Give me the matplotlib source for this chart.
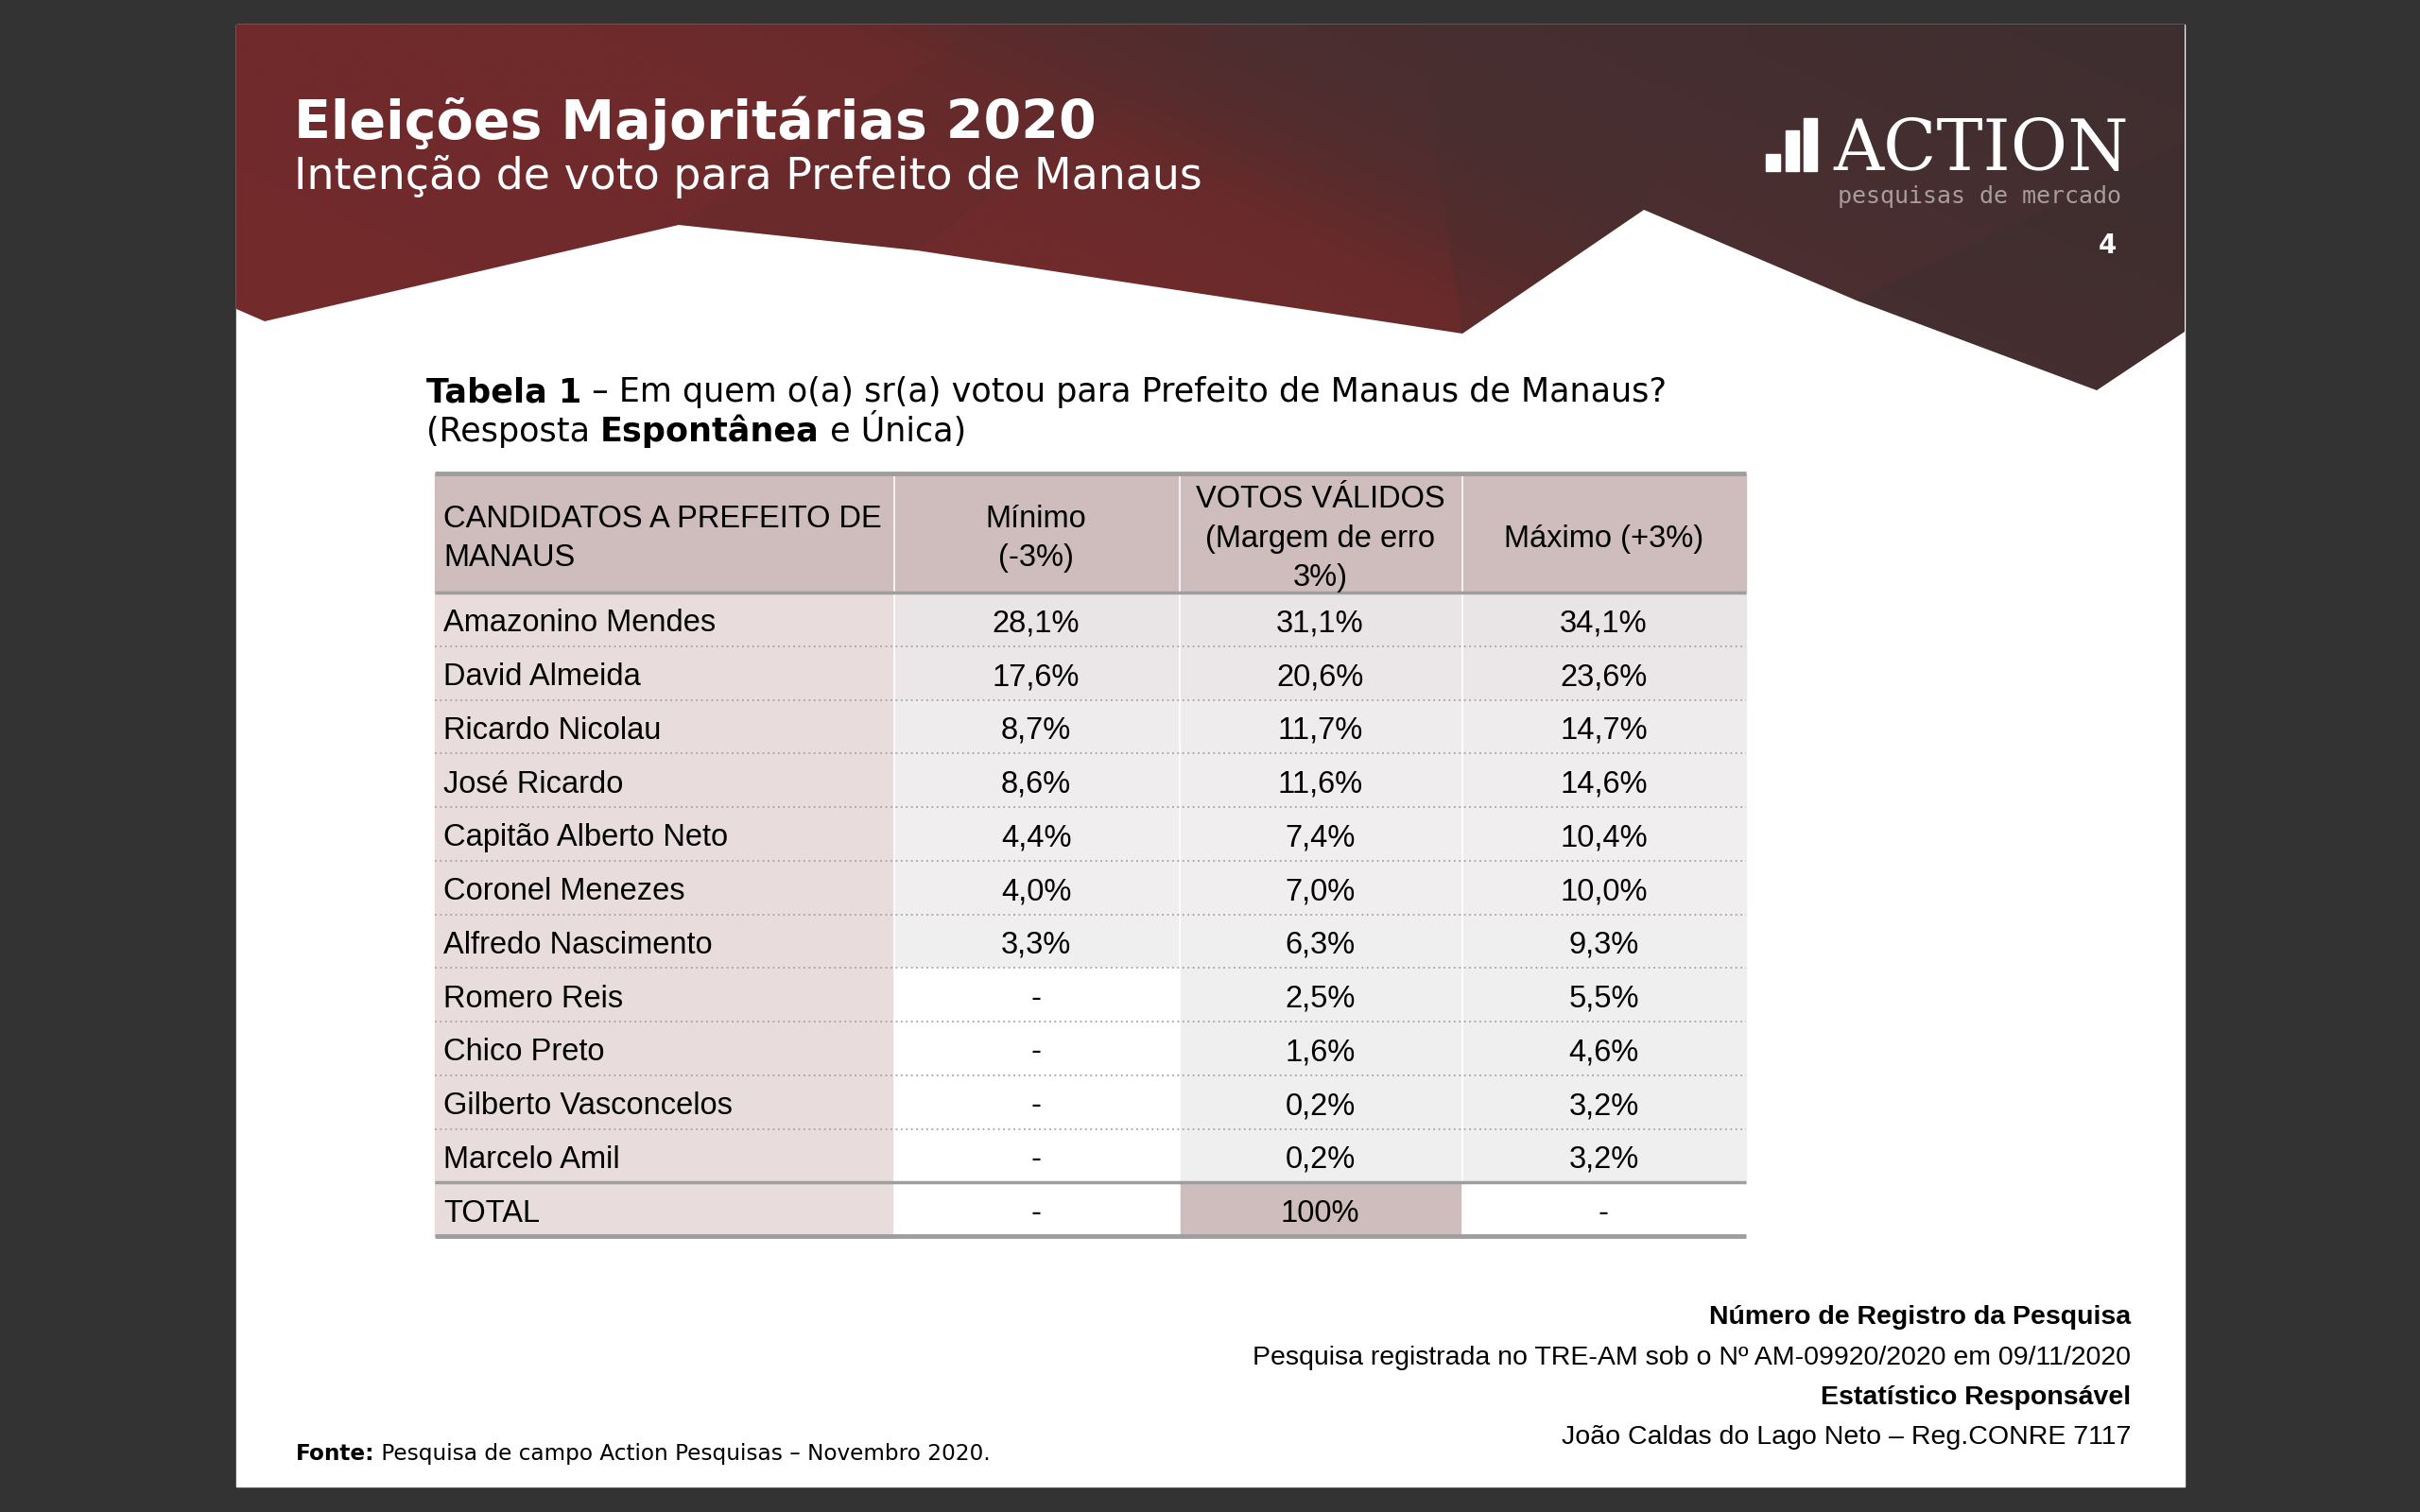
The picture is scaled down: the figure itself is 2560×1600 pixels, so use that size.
import matplotlib.pyplot as plt
import numpy as np
from matplotlib.patches import Polygon, Rectangle
from matplotlib.colors import to_rgb

# table data
candidates = ["Amazonino Mendes", "David Almeida", "Ricardo Nicolau", "José Ricardo",
              "Capitão Alberto Neto", "Coronel Menezes", "Alfredo Nascimento",
              "Romero Reis", "Chico Preto", "Gilberto Vasconcelos", "Marcelo Amil"]
minimo = [28.1, 17.6, 8.7, 8.6, 4.4, 4.0, 3.3, None, None, None, None]
votos = [31.1, 20.6, 11.7, 11.6, 7.4, 7.0, 6.3, 2.5, 1.6, 0.2, 0.2]
maximo = [34.1, 23.6, 14.7, 14.6, 10.4, 10.0, 9.3, 5.5, 4.6, 3.2, 3.2]
headers = ["CANDIDATOS A PREFEITO DE\nMANAUS", "Mínimo\n(-3%)",
           "VOTOS VÁLIDOS\n(Margem de erro\n3%)", "Máximo (+3%)"]
total_row = ["TOTAL", "-", "100%", "-"]

W, H = 2560, 1600
fig = plt.figure(figsize=(W / 100, H / 100), dpi=100)
fig.patch.set_facecolor('#333333')
ax = fig.add_axes([0, 0, 1, 1])
ax.set_xlim(0, W)
ax.set_ylim(H, 0)
ax.axis('off')

# slide
SX0, SX1, SY0, SY1 = 250, 2311, 26, 1573
ax.add_patch(Rectangle((SX0, SY0), SX1 - SX0, SY1 - SY0, color='white', zorder=0))

# header band, diagonal red -> brown gradient
band = [(250, 26), (2311, 26), (2311, 351), (2218, 413), (1964, 318), (1739, 222),
        (1547, 353), (970, 265), (718, 238), (280, 340), (250, 327)]
clip = Polygon(band, closed=True, facecolor='none', edgecolor='none')
ax.add_patch(clip)
gx = np.linspace(250, 2311, 700)
gy = np.linspace(26, 420, 140)
GX, GY = np.meshgrid(gx, gy)
U = GX - 2.2 * GY
stops_u = [-600, 560, 840, 1000, 1200, 1800, 2300]
stops_c = [to_rgb(c) for c in ['#742a2b', '#6f2a2b', '#682a2b', '#592c2d',
                               '#4d2e2f', '#432e30', '#3d2f30']]
grad = np.stack([np.interp(U, stops_u, [c[k] for c in stops_c]) for k in range(3)], axis=-1)
im = ax.imshow(grad, extent=[250, 2311, 420, 26], aspect='auto', zorder=1,
               interpolation='bilinear')
im.set_clip_path(clip)
facets = [
    ([(718, 238), (1040, 26), (1300, 26), (970, 265)], '#5a2c2d', 0.25),
    ([(1547, 353), (1739, 222), (1850, 26), (1500, 26)], '#472e2f', 0.3),
    ([(1964, 318), (2218, 413), (2311, 351), (2311, 150)], '#3a2e30', 0.4),
]
for pts, col, a in facets:
    p = Polygon(pts, closed=True, facecolor=col, edgecolor='none', alpha=a, zorder=2)
    ax.add_patch(p)
    p.set_clip_path(clip)

# titles
ax.text(311, 147, "Eleições Majoritárias 2020", color='white', fontsize=41,
        fontweight='bold', family='DejaVu Sans', va='baseline', zorder=5)
ax.text(311, 200, "Intenção de voto para Prefeito de Manaus", color='white', fontsize=33,
        family='DejaVu Sans', va='baseline', zorder=5)

# logo
for x0, x1, ytop in [(1868, 1883, 163), (1889, 1903, 138), (1908, 1922, 125)]:
    ax.add_patch(Rectangle((x0, ytop), x1 - x0, 181 - ytop, color='white', zorder=5))
logo = ax.text(2252, 180, "ACTION", color='white', fontsize=53, family='DejaVu Serif',
               ha='right', va='baseline', zorder=5)
ax.text(2229, 268, "4", color='white', fontsize=20, fontweight='bold',
        family='DejaVu Sans', ha='center', va='baseline', zorder=5)

# question
def inline(x, y, parts, size, family):
    # chain text pieces one after another on the same baseline
    prev = None
    for s, wt in parts:
        if prev is None:
            prev = ax.text(x, y, s, fontsize=size, family=family, fontweight=wt,
                           va='baseline', color='black', zorder=5)
        else:
            prev = ax.annotate(s, xy=(1, 0), xycoords=prev, fontsize=size, family=family,
                               fontweight=wt, va='bottom', ha='left', color='black', zorder=5)

inline(451, 425, [("Tabela 1", 'bold'),
                  (" – Em quem o(a) sr(a) votou para Prefeito de Manaus de Manaus?", 'normal')],
       25.2, 'DejaVu Sans')
inline(451, 467, [("(Resposta ", 'normal'), ("Espontânea", 'bold'), (" e Única)", 'normal')],
       25.2, 'DejaVu Sans')

# table
cols = [460, 945, 1247, 1546, 1847]
HT, HB = 501, 627
RH = 56.75
TF = ['Liberation Sans', 'DejaVu Sans']
FS = 23.5
head_c = '#cfbcbd'
name_c = '#e8dcdd'
row_shades = ['#e9e4e5', '#ebe7e8', '#eeeced', '#efedee', '#f0eeef', '#f0eeef',
              '#f0eff0', '#f0eff0', '#f0eff0', '#f0eff0', '#f0eff0']
gap = 3

def cell(ci, y0, y1, color):
    left = cols[ci] + (gap / 2 if ci else 0)
    right = cols[ci + 1] - (gap / 2 if ci < 3 else 0)
    ax.add_patch(Rectangle((left, y0), right - left, y1 - y0, color=color, zorder=2))

def fmt(v):
    return "-" if v is None else f"{v:.1f}".replace('.', ',') + "%"

for ci, h in enumerate(headers):
    cell(ci, HT, HB, head_c)
    yc = (HT + HB) / 2 + 6
    x = 469 if ci == 0 else (cols[ci] + cols[ci + 1]) / 2
    ax.text(x, yc, h, fontsize=FS, family=TF, ha='left' if ci == 0 else 'center',
            va='center', linespacing=1.42, zorder=4)

n = len(candidates)
for i in range(n):
    y0 = HB + i * RH
    y1 = y0 + RH
    yb = (y0 + y1) / 2 + 13
    cell(0, y0, y1, name_c)
    ax.text(469, yb, candidates[i], fontsize=FS, family=TF, ha='left', va='baseline', zorder=4)
    for ci, series in [(1, minimo), (2, votos), (3, maximo)]:
        v = series[i]
        cell(ci, y0, y1, 'white' if v is None else row_shades[i])
        ax.text((cols[ci] + cols[ci + 1]) / 2, yb, fmt(v), fontsize=FS, family=TF,
                ha='center', va='baseline', zorder=4)
    if i > 0:
        ax.plot([cols[0], cols[-1]], [y0, y0], color='#a5a5a5', lw=1.3,
                linestyle=(0, (1, 2)), zorder=3)

# total row
y0 = HB + n * RH
y1 = y0 + RH
tot_colors = [name_c, 'white', head_c, 'white']
for ci, t in enumerate(total_row):
    cell(ci, y0, y1, tot_colors[ci])
    x = 469 if ci == 0 else (cols[ci] + cols[ci + 1]) / 2
    ax.text(x, (y0 + y1) / 2 + 13, t, fontsize=FS, family=TF,
            ha='left' if ci == 0 else 'center', va='baseline', zorder=4)

for yy, lw in [(HT, 3.5), (HB, 2.5), (y0, 2.5), (y1, 3.5)]:
    ax.plot([cols[0], cols[-1]], [yy, yy], color='#9e9e9e', lw=lw, zorder=3,
            solid_capstyle='butt')

# footer
FR = 2254
FFS = 20.5
ax.text(FR, 1401, "Número de Registro da Pesquisa", fontsize=FFS, family=TF,
        fontweight='bold', ha='right', va='baseline')
ax.text(FR, 1444, "Pesquisa registrada no TRE-AM sob o Nº AM-09920/2020 em 09/11/2020",
        fontsize=FFS, family=TF, ha='right', va='baseline')
ax.text(FR, 1486, "Estatístico Responsável", fontsize=FFS, family=TF,
        fontweight='bold', ha='right', va='baseline')
ax.text(FR, 1528, "João Caldas do Lago Neto – Reg.CONRE 7117", fontsize=FFS, family=TF,
        ha='right', va='baseline')
inline(313, 1545, [("Fonte:", 'bold'),
                   (" Pesquisa de campo Action Pesquisas – Novembro 2020.", 'normal')],
       16.7, 'DejaVu Sans')

# tagline just under the logo word, placed below its text box
fig.canvas.draw()
bb = logo.get_window_extent(fig.canvas.get_renderer())
y_under = ax.transData.inverted().transform((bb.x0, bb.y0))[1]
ax.text(2244, y_under + 0.5, "pesquisas de mercado", color='#a89c9c', fontsize=18,
        family='DejaVu Sans Mono', ha='right', va='top', zorder=5)

fig.savefig('out.png', dpi=100, facecolor=fig.get_facecolor())
